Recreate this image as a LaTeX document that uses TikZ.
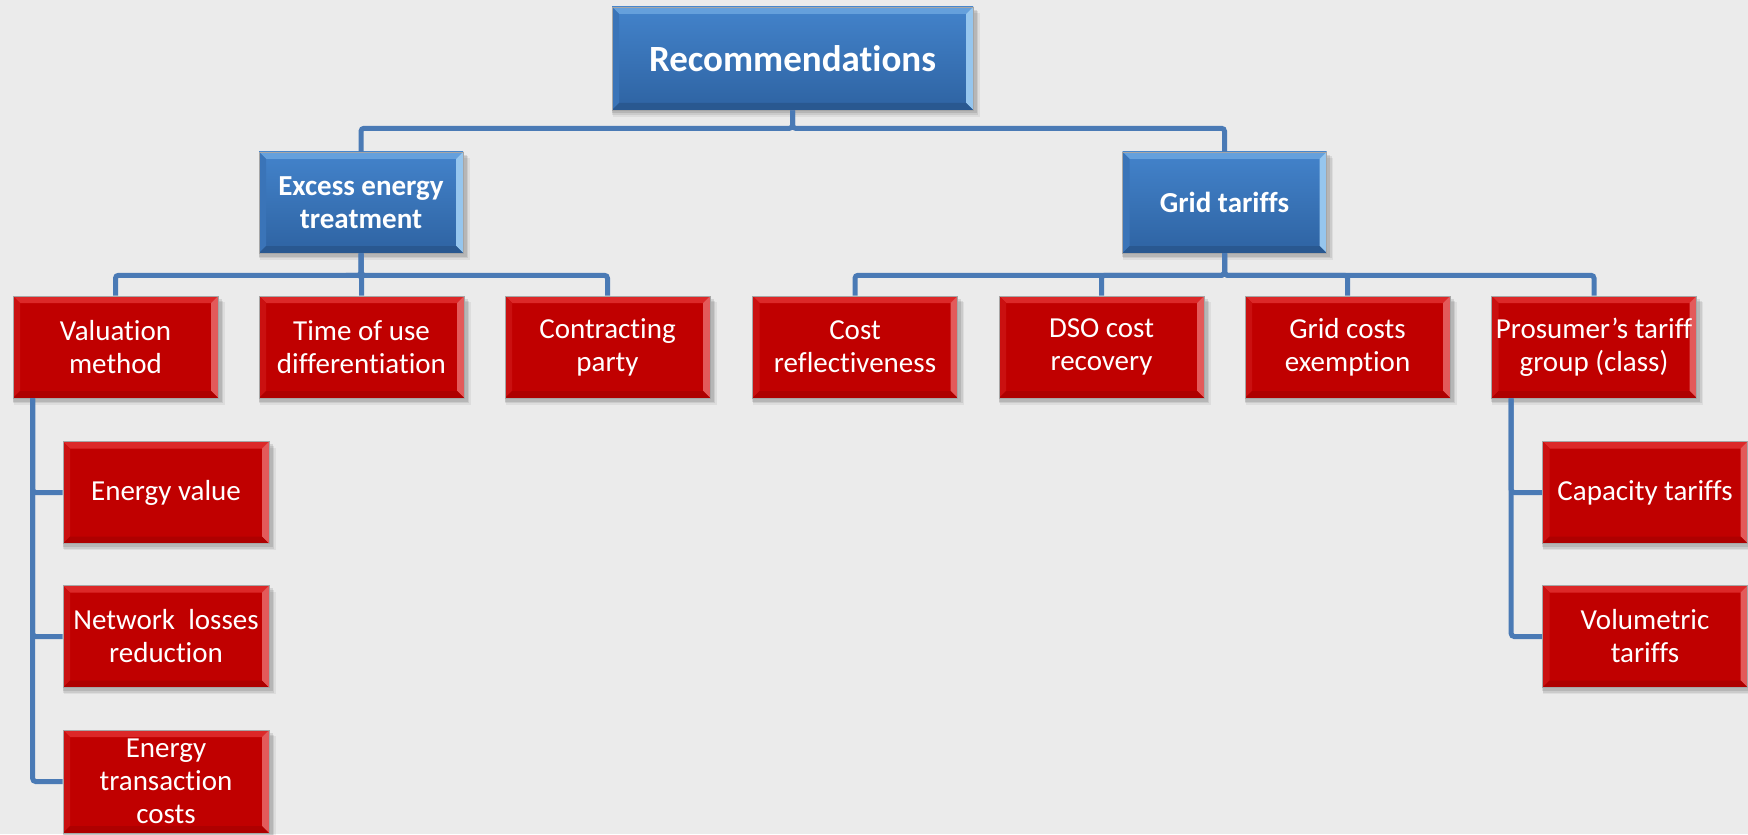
\documentclass[tikz,border=0pt]{standalone}
\usepackage{fontspec}
\setmainfont{Carlito}[RawFeature=-liga]
\usetikzlibrary{calc}

\definecolor{bgcol}{HTML}{EBEBEB}
\definecolor{linkcol}{HTML}{4A7AB5}
\definecolor{redmain}{HTML}{C00000}
\definecolor{redtop}{HTML}{DC2828}
\definecolor{redleft}{HTML}{CA1010}
\definecolor{redright}{HTML}{E35A5A}
\definecolor{redbot}{HTML}{AE0000}
\definecolor{bluetop}{HTML}{4383CB}
\definecolor{bluebot}{HTML}{2E63A2}
\definecolor{blueband}{HTML}{65A0DC}
\definecolor{blueleft}{HTML}{3A74B8}
\definecolor{blueright}{HTML}{96C6EE}
\definecolor{bluebotband}{HTML}{295890}

\pgfdeclarelayer{bglayer}
\pgfdeclarelayer{shadelayer}
\pgfsetlayers{bglayer,shadelayer,main}

\tikzset{
  x=0.5pt, y=-0.5pt,
  % bevelled edges: top, left, right, bottom band colours
  bevel/.style n args={4}{path picture={
    \fill[#1] (path picture bounding box.north west) -- (path picture bounding box.north east)
      -- ([shift={(-3.5pt,-3.5pt)}]path picture bounding box.north east)
      -- ([shift={(3.5pt,-3.5pt)}]path picture bounding box.north west) -- cycle;
    \fill[#2] (path picture bounding box.north west) -- (path picture bounding box.south west)
      -- ([shift={(3.5pt,3.5pt)}]path picture bounding box.south west)
      -- ([shift={(3.5pt,-3.5pt)}]path picture bounding box.north west) -- cycle;
    \fill[#3] (path picture bounding box.north east) -- (path picture bounding box.south east)
      -- ([shift={(-3.5pt,3.5pt)}]path picture bounding box.south east)
      -- ([shift={(-3.5pt,-3.5pt)}]path picture bounding box.north east) -- cycle;
    \fill[#4] (path picture bounding box.south west) -- (path picture bounding box.south east)
      -- ([shift={(-3.5pt,3.5pt)}]path picture bounding box.south east)
      -- ([shift={(3.5pt,3.5pt)}]path picture bounding box.south west) -- cycle;
  }},
  basebox/.style={rectangle, inner sep=0pt, align=flush center, text=white,
    draw=black!35, line width=0.3pt},
  redbox/.style={basebox, fill=redmain, bevel={redtop}{redleft}{redright}{redbot},
    minimum width=102.5pt, minimum height=51pt, text width=102pt,
    font=\fontsize{14.5}{16.5}\selectfont},
  bluebox/.style={basebox, top color=bluetop, bottom color=bluebot,
    bevel={blueband}{blueleft}{blueright}{bluebotband},
    minimum width=102pt, minimum height=50.5pt, text width=102pt,
    font=\fontsize{14.5}{16.5}\selectfont\bfseries},
  topbox/.style={bluebox, minimum width=180.5pt, minimum height=51.5pt, text width=180pt,
    font=\fontsize{18.5}{21}\selectfont\bfseries},
  link/.style={draw=linkcol, line width=2.5pt, rounded corners=1.5pt},
}

\begin{document}
\begin{tikzpicture}
  \begin{pgfonlayer}{bglayer}
    \fill[bgcol] (0,0) rectangle (1748,834);
  \end{pgfonlayer}
  \useasboundingbox (0,0) rectangle (1748,834);

  % top level
  \node[topbox] (rec) at (792.5,58.5) {Recommendations};

  % second level
  \node[bluebox] (exc)  at (361,202.5)    {Excess energy\\treatment};
  \node[bluebox] (grid) at (1224.5,202.5) {Grid tariffs};

  % third level
  \node[redbox] (val)  at (115.5,347)  {Valuation\\method};
  \node[redbox] (tou)  at (361.5,347)  {Time of use\\differentiation};
  \node[redbox] (con)  at (607.5,347)  {Contracting\\party};
  \node[redbox] (cost) at (855,347)    {Cost\\reflectiveness};
  \node[redbox] (dso)  at (1101.5,347) {DSO cost\\recovery};
  \node[redbox] (gce)  at (1347.5,347) {Grid costs\\exemption};
  \node[redbox] (pro)  at (1594,347)   {Prosumer’s tariff\\group (class)};

  % fourth level
  \node[redbox, minimum width=103pt] (ev) at (166,492.5) {Energy value};
  \node[redbox, minimum width=103pt] (nl) at (166,636.5) {Network\ \ losses\\reduction};
  \node[redbox, minimum width=103pt, minimum height=51.5pt] (et) at (166,781.5) {Energy\\transaction\\costs};
  \node[redbox] (cap) at (1645,492.5) {Capacity tariffs};
  \node[redbox] (vol) at (1645,636.5) {Volumetric\\tariffs};

  % soft drop shadows under the boxes
  \begin{pgfonlayer}{shadelayer}
    \foreach \n in {rec,exc,grid,val,tou,con,cost,dso,gce,pro,ev,nl,et,cap,vol}{
      \foreach \d/\o in {3.2pt/0.06,2.4pt/0.08,1.6pt/0.10}{
        \fill[black, opacity=\o]
          ($(\n.north west)+(-0.5pt+0.3*\d,-\d)$) rectangle ($(\n.south east)+(\d,-\d)$);
      }
    }
  \end{pgfonlayer}

  % connectors
  \draw[link] (rec.south) -- ++(0,18) -| (exc.north);
  \draw[link] (rec.south) -- ++(0,18) -| (grid.north);

  \foreach \c in {val,tou,con}{
    \draw[link] (exc.south) -- ++(0,22) -| (\c.north);
  }
  \foreach \c in {cost,dso,gce,pro}{
    \draw[link] (grid.south) -- ++(0,22) -| (\c.north);
  }

  \foreach \c in {ev,nl,et}{
    \draw[link] ([xshift=10pt]val.south west) |- (\c.west);
  }
  \foreach \c in {cap,vol}{
    \draw[link] ([xshift=10pt]pro.south west) |- (\c.west);
  }
\end{tikzpicture}
\end{document}
